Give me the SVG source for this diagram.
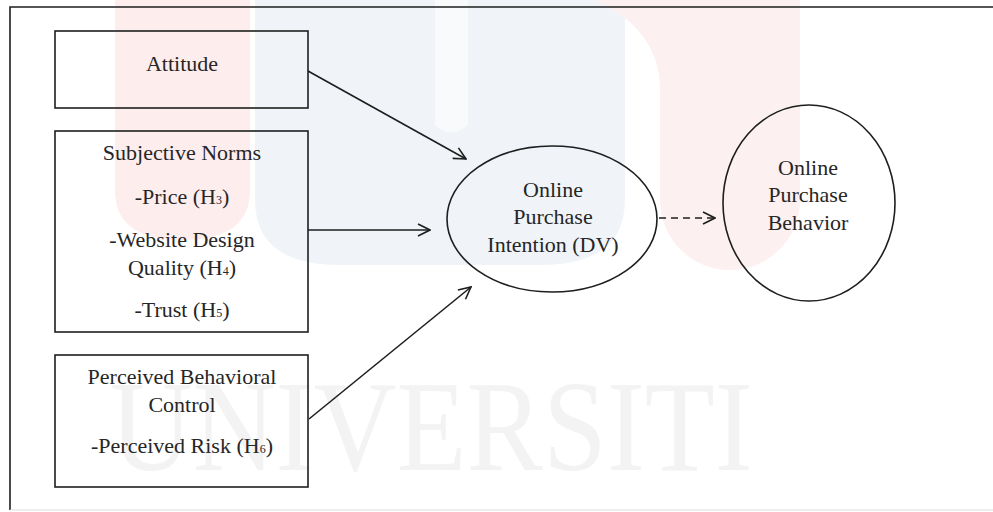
<svg xmlns="http://www.w3.org/2000/svg" width="993" height="512" viewBox="0 0 993 512">
<style>
.box{fill:none;stroke:#1e1e1e;stroke-width:1.6}
.ell{fill:none;stroke:#1e1e1e;stroke-width:1.6}
.lbl{font-size:22px;fill:#262626;text-anchor:middle}
.sub{font-size:12px}
.conn{fill:none;stroke:#1e1e1e;stroke-width:1.6}
.dash{stroke-dasharray:7 5}
</style>
<defs>
<marker id="arr" viewBox="0 0 14 14" refX="13" refY="7" markerWidth="14" markerHeight="14" markerUnits="userSpaceOnUse" orient="auto">
<path d="M1,1 L13,7 L1,13" fill="none" stroke="#1e1e1e" stroke-width="1.6"/>
</marker>
</defs>
<rect width="993" height="512" fill="#ffffff"/>
<g id="watermark">
<path d="M115,0 H250 V190 Q250,240 182,240 Q115,240 115,190 Z" fill="#fdeded"/>
<path d="M255,0 H625 V200 Q625,265 540,265 H340 Q255,265 255,200 Z" fill="#f0f4f8"/>
<path d="M435,0 H468 V125 Q451,140 435,125 Z" fill="#f8fafc"/>
<path d="M595,0 H800 V200 A70,70 0 0 1 660,200 V90 Q660,30 595,0 Z" fill="#fdf0f0"/>
<text x="110" y="470" font-family="Liberation Serif, serif" font-size="130" fill="#f3f3f3" textLength="643" lengthAdjust="spacingAndGlyphs">UNIVERSITI</text>
</g>
<g id="frame">
<path d="M10,510 V7 H993" fill="none" stroke="#1e1e1e" stroke-width="1.6"/>
<line x1="10" y1="510" x2="993" y2="510" stroke="#dddddd" stroke-width="1"/>
</g>
<g id="connectors">
<line class="conn" x1="308" y1="71" x2="466" y2="159" marker-end="url(#arr)"/>
<line class="conn" x1="308" y1="230" x2="430" y2="230" marker-end="url(#arr)"/>
<line class="conn" x1="309" y1="419" x2="471" y2="287" marker-end="url(#arr)"/>
<line class="conn dash" x1="659" y1="218" x2="715" y2="218" marker-end="url(#arr)"/>
</g>
<g font-family="Liberation Serif, serif">
<g id="attitude">
<rect class="box" x="55" y="31" width="253" height="77"/>
<text class="lbl" x="182" y="71">Attitude</text>
</g>
<g id="subjective-norms">
<rect class="box" x="55" y="131" width="253" height="201"/>
<text class="lbl" x="182" y="160">Subjective Norms</text>
<text class="lbl" x="182" y="204">-Price (H<tspan class="sub">3</tspan>)</text>
<text class="lbl" x="182" y="247">-Website Design</text>
<text class="lbl" x="182" y="275">Quality (H<tspan class="sub">4</tspan>)</text>
<text class="lbl" x="182" y="317">-Trust (H<tspan class="sub">5</tspan>)</text>
</g>
<g id="perceived-behavioral-control">
<rect class="box" x="55" y="355" width="253" height="132"/>
<text class="lbl" x="182" y="384">Perceived Behavioral</text>
<text class="lbl" x="182" y="412">Control</text>
<text class="lbl" x="182" y="453">-Perceived Risk (H<tspan class="sub">6</tspan>)</text>
</g>
<g id="purchase-intention">
<ellipse class="ell" cx="552" cy="219" rx="105" ry="73"/>
<text class="lbl" x="553" y="197">Online</text>
<text class="lbl" x="553" y="224">Purchase</text>
<text class="lbl" x="553" y="252">Intention (DV)</text>
</g>
<g id="purchase-behavior">
<ellipse class="ell" cx="809" cy="203" rx="86" ry="98"/>
<text class="lbl" x="808" y="175">Online</text>
<text class="lbl" x="808" y="202">Purchase</text>
<text class="lbl" x="808" y="230">Behavior</text>
</g>
</g>
</svg>
